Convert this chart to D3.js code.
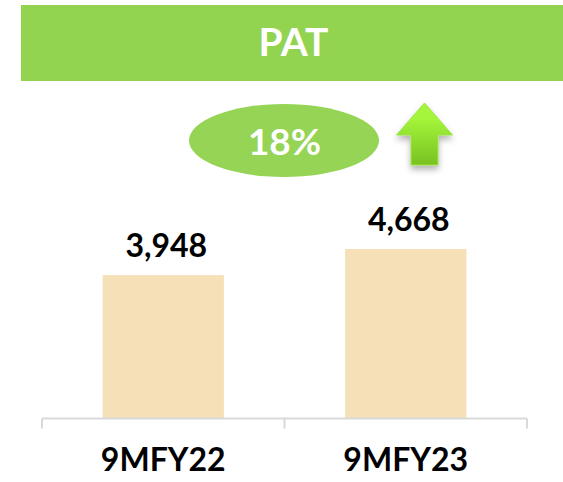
<!DOCTYPE html>
<html>
<head>
<meta charset="utf-8">
<script src="https://cdn.jsdelivr.net/npm/d3@7/dist/d3.min.js"></script>
<style>
html,body{margin:0;padding:0;background:#fff;overflow:hidden}
svg{display:block}
text{font-family:Lato,Carlito,sans-serif;font-weight:700}
</style>
</head>
<body>
<svg id="c" width="563" height="482"></svg>
<script>
const categories = ["9MFY22", "9MFY23"];
const values = [3948, 4668];
const valueLabels = ["3,948", "4,668"];
const titleText = "PAT";
const growthText = "18%";

const svg = d3.select("#c");
const axisY = 418.5;
const x = d3.scaleBand().domain(categories).range([42, 527]).paddingInner(0.5).paddingOuter(0.25);
const y = d3.scaleLinear().domain([0, 4668]).range([axisY, 249]);

const defs = svg.append("defs");
const grad = defs.append("linearGradient").attr("id", "arrowFill").attr("x1", 0).attr("y1", 0).attr("x2", 0).attr("y2", 1);
grad.append("stop").attr("offset", "0.25").attr("stop-color", "#a4f53a");
grad.append("stop").attr("offset", "1").attr("stop-color", "#79c122");
const blur = defs.append("filter").attr("id", "arrowShadow").attr("x", "-30%").attr("y", "-30%").attr("width", "160%").attr("height", "160%");
blur.append("feDropShadow").attr("dx", 0).attr("dy", 4).attr("stdDeviation", 3).attr("flood-color", "#000").attr("flood-opacity", 0.3);

svg.append("rect").attr("x", 21).attr("y", 5).attr("width", 542).attr("height", 76).attr("fill", "#92d350");
svg.append("text").attr("x", 293.5).attr("y", 56).attr("text-anchor", "middle").attr("font-size", 39).attr("fill", "#fff").text(titleText);

svg.append("ellipse").attr("cx", 284).attr("cy", 140.5).attr("rx", 95).attr("ry", 36.5).attr("fill", "#95d455");
svg.append("text").attr("x", 284.5).attr("y", 154.5).attr("text-anchor", "middle").attr("font-size", 37).attr("fill", "#fff").text(growthText);

svg.append("path")
  .attr("d", d3.line()([[424.5,103],[452.5,135],[438,135],[438,165],[411,165],[411,135],[396.5,135]]) + "Z")
  .attr("fill", "url(#arrowFill)").attr("stroke", "#9be544").attr("stroke-width", 1)
  .attr("filter", "url(#arrowShadow)");

svg.selectAll("rect.bar").data(values).join("rect").attr("class", "bar")
  .attr("x", (d, i) => x(categories[i])).attr("width", x.bandwidth())
  .attr("y", d => y(d)).attr("height", d => axisY - y(d))
  .attr("fill", "#f6e0b8");

svg.selectAll("text.val").data(values).join("text").attr("class", "val")
  .attr("x", (d, i) => x(categories[i]) + x.bandwidth() / 2 + 3)
  .attr("y", d => y(d) - 18)
  .attr("text-anchor", "middle").attr("font-size", 32).attr("fill", "#000")
  .text((d, i) => valueLabels[i]);

const g = svg.append("g").attr("transform", `translate(0,${axisY})`);
const edges = [42, 42 + (527 - 42) / 2, 527];
g.append("line").attr("x1", edges[0]).attr("x2", edges[2]).attr("stroke", "#d9d9d9").attr("stroke-width", 2);
g.selectAll("line.t").data(edges).join("line").attr("class", "t")
  .attr("x1", d => d).attr("x2", d => d).attr("y1", 0).attr("y2", 10)
  .attr("stroke", "#d9d9d9").attr("stroke-width", 2);

svg.selectAll("text.cat").data(categories).join("text").attr("class", "cat")
  .attr("x", d => x(d) + x.bandwidth() / 2)
  .attr("y", 471)
  .attr("text-anchor", "middle").attr("font-size", 32).attr("fill", "#000")
  .text(d => d);
</script>
</body>
</html>
